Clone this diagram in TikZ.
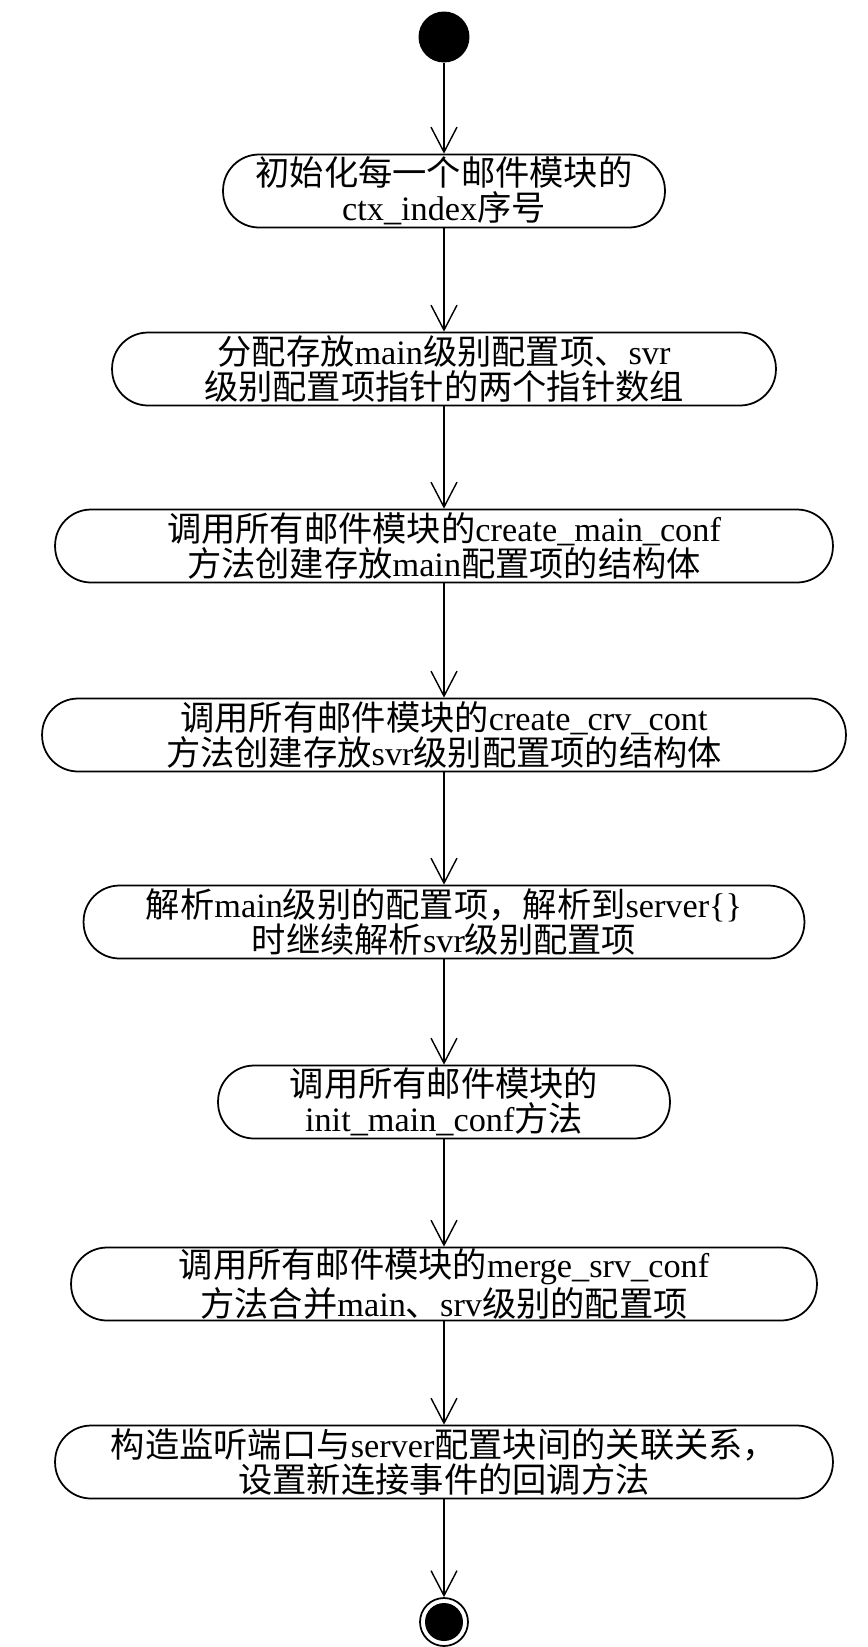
\documentclass[tikz,border=0pt]{standalone}
\usepackage{fontspec}
\setmainfont{Liberation Serif}
\newfontfamily\cjk{Noto Sans CJK SC}
\usetikzlibrary{arrows.meta}
\newcommand{\zh}[1]{{\cjk #1}}
\begin{document}
\begin{tikzpicture}[x=0.02cm,y=-0.02cm,line join=round,
  >={Straight Barb[length=0.5cm,width=0.52cm]},
  act/.style={draw,line width=1pt,rounded corners=0.72cm,inner sep=0pt,
    minimum height=1.46cm,minimum width=#1,align=center,
    font=\fontsize{19.5}{20}\selectfont},
  flow/.style={->,line width=0.8pt}]
\useasboundingbox (0,0) rectangle (867,1647);
  \node[circle,fill=black,minimum size=1.02cm,inner sep=0pt] (start) at (444,37) {};
  \node[act=8.84cm] (init) at (444,191) {\zh{初始化每一个邮件模块的}\\ctx\_index\zh{序号}};
  \node[act=13.28cm] (alloc) at (444,369) {\zh{分配存放}main\zh{级别配置项、}svr\\\zh{级别配置项指针的两个指针数组}};
  \node[act=15.56cm] (cmain) at (444,546) {\zh{调用所有邮件模块的}create\_main\_conf\\\zh{方法创建存放}main\zh{配置项的结构体}};
  \node[act=16.08cm] (csrv) at (444,735) {\zh{调用所有邮件模块的}create\_crv\_cont\\\zh{方法创建存放}svr\zh{级别配置项的结构体}};
  \node[act=14.42cm] (parse) at (444,922) {\zh{解析}main\zh{级别的配置项，解析到}server\{\}\\\zh{时继续解析}svr\zh{级别配置项}};
  \node[act=9.04cm] (imain) at (444,1102) {\zh{调用所有邮件模块的}\\init\_main\_conf\zh{方法}};
  \node[act=14.92cm] (merge) at (444,1284) {\zh{调用所有邮件模块的}merge\_srv\_conf\\\zh{方法合并}main\zh{、}srv\zh{级别的配置项}};
  \node[act=15.56cm] (listen) at (444,1462) {\zh{构造监听端口与}server\zh{配置块间的关联关系，}\\\zh{设置新连接事件的回调方法}};
  \node[circle,draw,line width=1pt,minimum size=0.96cm,inner sep=0pt] (stop) at (444,1622) {};
  \fill (stop) circle (0.38cm);
  % transitions
  \draw[flow] (start)--(init);
  \draw[flow] (init)--(alloc);
  \draw[flow] (alloc)--(cmain);
  \draw[flow] (cmain)--(csrv);
  \draw[flow] (csrv)--(parse);
  \draw[flow] (parse)--(imain);
  \draw[flow] (imain)--(merge);
  \draw[flow] (merge)--(listen);
  \draw[flow] (listen)--(stop);
\end{tikzpicture}
\end{document}
